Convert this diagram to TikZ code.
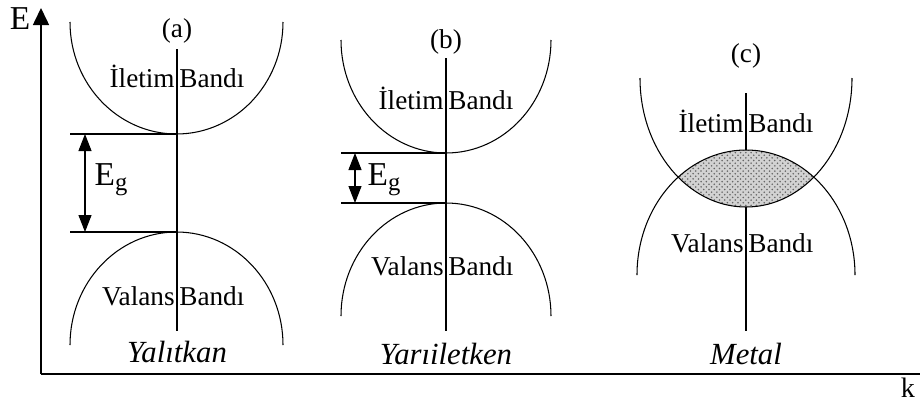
\documentclass[tikz,border=0pt]{standalone}
\usepackage{fontspec}
\setmainfont{Liberation Serif}
\usetikzlibrary{arrows.meta, patterns}

\begin{document}
\begin{tikzpicture}[
    x=0.02cm, y=-0.02cm,
    band/.style={line width=0.6pt},
    gap/.style={{Triangle[length=3.4mm,width=2.6mm]}-{Triangle[length=3.4mm,width=2.6mm]}, line width=0.6pt},
    axis/.style={line width=0.9pt},
    lbl/.style={font=\fontsize{15.5}{18}\selectfont, inner sep=0pt},
    big/.style={font=\fontsize{19}{21}\selectfont, inner sep=0pt},
    kind/.style={font=\itshape\fontsize{17.5}{20}\selectfont, inner sep=0pt}
]
\useasboundingbox (0,0) rectangle (920,403);

% axes
\coordinate (O) at (41,374);
\coordinate (Etip) at (41,8);
\coordinate (kend) at (920,374);
\draw[axis, -{Triangle[length=3.4mm,width=3.2mm]}] (O) -- (Etip);
\draw[axis] (O) -- (kend);
\node[big] (E) at (20,19) {E};
\node[lbl, font=\fontsize{16}{18}\selectfont] (k) at (908,388) {k};

% (a) yalitkan
\coordinate (a-top) at (177,49);
\coordinate (a-bot) at (177,331);
\coordinate (a-c) at (177,134);
\coordinate (a-v) at (177,232);
\coordinate (a-cl) at (70,134);
\coordinate (a-vl) at (70,232);
\coordinate (a-g1) at (85,134);
\coordinate (a-g2) at (85,232);
\draw[band] (283,22) arc[start angle=0, end angle=180, x radius=106.5, y radius=112];
\draw[band] (283,345) arc[start angle=0, end angle=-180, x radius=106.5, y radius=113];
\draw[band] (a-top) -- (a-bot);
\draw[band] (a-cl) -- (a-c);
\draw[band] (a-vl) -- (a-v);
\draw[gap] (a-g1) -- (a-g2);
\node[lbl] (a-name) at (177,31) {(a)};
\node[lbl, anchor=base east] (a-il) at (175,87) {İletim};
\node[lbl, anchor=base west] (a-ib) at (179,87) {Bandı};
\node[lbl, anchor=base east] (a-vl) at (175,305) {Valans};
\node[lbl, anchor=base west] (a-vb) at (179,305) {Bandı};
\node[big] (a-eg) at (111,180) {E\raisebox{-0.35ex}{\fontsize{14}{16}\selectfont g}};
\node[kind] (a-kind) at (177,352) {Yalıtkan};

% (b) yariiletken
\coordinate (b-top) at (446,58);
\coordinate (b-bot) at (446,331);
\coordinate (b-c) at (446,153);
\coordinate (b-v) at (446,203);
\coordinate (b-cl) at (341,153);
\coordinate (b-vl) at (341,203);
\coordinate (b-g1) at (355,153);
\coordinate (b-g2) at (355,203);
\draw[band] (551,40) arc[start angle=0, end angle=180, x radius=105, y radius=113];
\draw[band] (551,316) arc[start angle=0, end angle=-180, x radius=105, y radius=113];
\draw[band] (b-top) -- (b-bot);
\draw[band] (b-cl) -- (b-c);
\draw[band] (b-vl) -- (b-v);
\draw[gap] (b-g1) -- (b-g2);
\node[lbl] (b-name) at (446,42) {(b)};
\node[lbl, anchor=base east] (b-il) at (444,109) {İletim};
\node[lbl, anchor=base west] (b-ib) at (448,109) {Bandı};
\node[lbl, anchor=base east] (b-vl) at (444,275) {Valans};
\node[lbl, anchor=base west] (b-vb) at (448,275) {Bandı};
\node[big] (b-eg) at (384,180) {E\raisebox{-0.35ex}{\fontsize{14}{16}\selectfont g}};
\node[kind] (b-kind) at (446,354) {Yarıiletken};

% (c) metal
\coordinate (c-top) at (746,93);
\coordinate (c-bot) at (746,331);
\draw[band] (c-top) -- (c-bot);
\begin{scope}
  \clip (855,275) arc[start angle=0, end angle=-180, x radius=109, y radius=125] -- cycle;
  \fill[gray!35] (852,78) arc[start angle=0, end angle=180, x radius=106, y radius=129] -- cycle;
  \fill[pattern=crosshatch dots, pattern color=black!60] (852,78) arc[start angle=0, end angle=180, x radius=106, y radius=129] -- cycle;
\end{scope}
\draw[band] (852,78) arc[start angle=0, end angle=180, x radius=106, y radius=129];
\draw[band] (855,275) arc[start angle=0, end angle=-180, x radius=109, y radius=125];
\node[lbl] (c-name) at (746,56) {(c)};
\node[lbl, anchor=base east] (c-il) at (744,132) {İletim};
\node[lbl, anchor=base west] (c-ib) at (748,132) {Bandı};
\node[lbl, anchor=base east] (c-vl) at (744,252) {Valans};
\node[lbl, anchor=base west] (c-vb) at (748,252) {Bandı};
\node[kind] (c-kind) at (746,354) {Metal};
\end{tikzpicture}
\end{document}
